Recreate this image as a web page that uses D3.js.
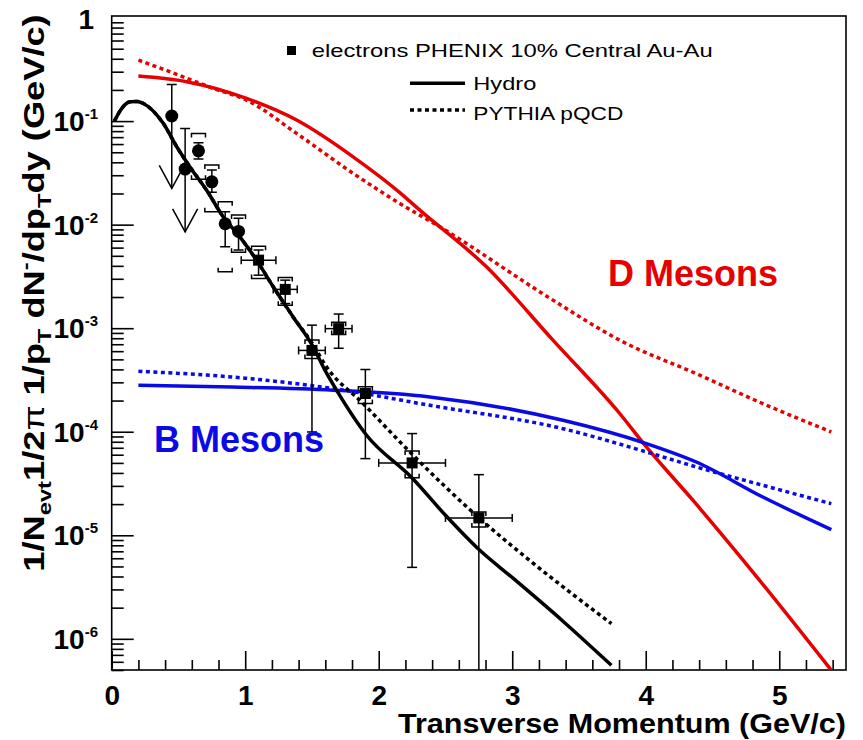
<!DOCTYPE html>
<html>
<head>
<meta charset="utf-8">
<script src="https://cdnjs.cloudflare.com/ajax/libs/d3/7.8.5/d3.min.js"></script>
<style>
  body { margin: 0; background: #fff; }
  svg { display: block; font-family: "Liberation Sans", Arial, Helvetica, sans-serif; }
</style>
</head>
<body>
<svg id="chart" width="863" height="740"></svg>
<script>
// ---- data ----
// electron points (PHENIX 10% central Au-Au)
var ptX      = [0.45, 0.55, 0.65, 0.75, 0.85, 0.95, 1.1, 1.3, 1.5, 1.7, 1.9, 2.25, 2.75];
var ptY      = [0.112, 0.0344, 0.0516, 0.0259, 0.0102, 0.0086, 0.00454, 0.00237, 6.1e-4, 9.9e-4, 2.34e-4, 5.0e-5, 1.47e-5];
var statHi   = [0.226, 0.085, 0.0617, 0.0337, 0.0133, 0.0115, 0.00568, 0.00291, 1.07e-3, 1.37e-3, 3.99e-4, 9.6e-5, 3.85e-5];
var statLo   = [0.0224, 0.0085, 0.043, 0.0206, 0.0061, 0.0057, 0.00325, 0.00173, 9.95e-5, 6.4e-4, 5.5e-5, 4.9e-6, 1e-7];
var sysHi    = [null, null, 0.076, 0.0376, 0.0166, 0.0124, 0.0062, 0.00309, 7.7e-4, 1.14e-3, 2.72e-4, 6.5e-5, 1.68e-5];
var sysLo    = [null, null, 0.0274, 0.0133, 0.0035, 0.0054, 0.00302, 0.00167, 5.1e-4, 8.7e-4, 1.87e-4, 3.6e-5, 1.2e-5];
var ptXerr   = [0, 0, 0, 0, 0, 0, 0.13, 0.09, 0.1, 0.1, 0, 0.25, 0.25];
var ptArrow  = [true, true, false, false, false, false, false, false, false, false, false, false, false];
var ptMarker = ["circle", "circle", "circle", "circle", "circle", "circle", "square", "square", "square", "square", "square", "square", "square"];

// model curves [pT, yield]
var eHydro = [[0.02,0.1],[0.08,0.135],[0.137,0.1535],[0.19,0.155],[0.237,0.148],[0.386,0.0951],[0.487,0.0565],
  [0.586,0.0361],[0.711,0.0215],[0.835,0.0119],[0.96,0.00762],[1.085,0.00454],[1.21,0.00251],[1.359,0.001285],
  [1.509,6.61e-4],[1.597,3.93e-4],[1.684,2.52e-4],[1.909,9.25e-5],[2.245,3.63e-5],[2.5,1.56e-5],[2.757,7.16e-6],
  [3.006,3.85e-6],[3.38,1.48e-6],[3.743,5.55e-7]];
var ePythia = [[0.02,0.1],[0.08,0.135],[0.137,0.1535],[0.19,0.155],[0.237,0.148],[0.386,0.0951],[0.487,0.0565],
  [0.586,0.0361],[0.711,0.0215],[0.835,0.0119],[0.96,0.00762],[1.085,0.00454],[1.21,0.00251],[1.359,0.001285],
  [1.509,6.92e-4],[1.6,4.4e-4],[1.883,1.875e-4],[2.233,6.38e-5],[2.757,1.45e-5],[3.13,5.73e-6],[3.743,1.4e-6]];
var dHydro = [[0.2,0.272],[0.561,0.24],[1.01,0.1656],[1.385,0.1023],[1.808,0.0452],[2.158,0.0204],[2.308,0.0138],
  [2.807,0.00391],[3.305,7.66e-4],[3.805,1.5e-4],[4.005,7.13e-5],[4.353,2.18e-5],[4.85,3.71e-6],[5.39,4.97e-7]];
var dPythia = [[0.2,0.388],[0.45,0.295],[0.76,0.207],[1.01,0.1596],[1.385,0.076],[1.808,0.0313],[2.158,0.016],
  [2.458,0.00952],[3.305,0.001866],[3.805,7.66e-4],[4.404,3.52e-4],[4.877,1.87e-4],[5.39,9.95e-5]];
var bHydro = [[0.2,2.81e-4],[0.9,2.7e-4],[1.659,2.52e-4],[2.383,2.17e-4],[3.38,1.29e-4],[4.005,7.69e-5],
  [4.379,5.1e-5],[4.877,2.34e-5],[5.39,1.135e-5]];
var bPythia = [[0.2,3.84e-4],[1.0,3.29e-4],[1.66,2.61e-4],[2.383,1.8e-4],[3.38,1.07e-4],[4.005,6.38e-5],
  [4.379,4.57e-5],[4.877,3.04e-5],[5.39,2.02e-5]];

var xMajor = [0, 1, 2, 3, 4, 5];
var xMinor = [0.2,0.4,0.6,0.8,1.2,1.4,1.6,1.8,2.2,2.4,2.6,2.8,3.2,3.4,3.6,3.8,4.2,4.4,4.6,4.8,5.2,5.4];
var yMajor = [1e-6, 1e-5, 1e-4, 1e-3, 1e-2, 1e-1];
var yMajorExp = ["-6", "-5", "-4", "-3", "-2", "-1"];

var red = "#e60000", blue = "#0a0ae6";

// ---- layout ----
var svg = d3.select("#chart");
var fL = 111.7, fR = 846, fT = 16, fB = 670;

var x = d3.scaleLinear().domain([0, 5.5]).range([fL, fR]);
var y = d3.scaleLog().domain([5e-7, 1.035]).range([fB, fT]);

svg.append("clipPath").attr("id", "frame-clip")
  .append("rect").attr("x", fL).attr("y", fT).attr("width", fR - fL).attr("height", fB - fT);

// axes (ticks inward, ROOT style)
var xAxisMajor = d3.axisBottom(x).tickValues(xMajor).tickSize(-19).tickPadding(15).tickFormat(d3.format("d"));
var xAxisMinor = d3.axisBottom(x).tickValues(xMinor).tickSize(-10).tickFormat("");
var gx = svg.append("g").attr("transform", "translate(0," + fB + ")");
gx.call(xAxisMajor);
gx.append("g").call(xAxisMinor);
gx.selectAll("text").attr("font-size", 28).attr("font-weight", "bold").attr("fill", "#000")
  .attr("font-family", "'Liberation Sans', Arial, sans-serif");

var yMinor = y.ticks().filter(function(d){ return yMajor.indexOf(d) < 0 && Math.abs(d - 1) > 1e-9; });
var yAxisMajor = d3.axisLeft(y).tickValues(yMajor).tickSize(-22).tickFormat("");
var yAxisMinor = d3.axisLeft(y).tickValues(yMinor).tickSize(-12).tickFormat("");
var gy = svg.append("g").attr("transform", "translate(" + fL + ",0)");
gy.call(yAxisMajor);
gy.append("g").call(yAxisMinor);

svg.selectAll(".domain").remove();
svg.selectAll(".tick line").attr("stroke", "#000").attr("stroke-width", 1.6);

// y tick labels 10^n
var ylab = svg.append("g").attr("font-weight", "bold").attr("fill", "#000");
yMajor.forEach(function(v, i){
  var t = ylab.append("text").attr("x", 98).attr("y", y(v) + 10).attr("text-anchor", "end");
  t.append("tspan").attr("font-size", 28).text("10");
  t.append("tspan").attr("font-size", 15).attr("dy", -12).text(yMajorExp[i]);
});
ylab.append("text").attr("x", 94).attr("y", y(1) + 11).attr("text-anchor", "end")
  .attr("font-size", 28).text("1");

// frame
svg.append("rect").attr("x", fL).attr("y", fT).attr("width", fR - fL).attr("height", fB - fT)
  .attr("fill", "none").attr("stroke", "#000").attr("stroke-width", 1.6);

// curves
var line = d3.line().x(function(d){ return x(d[0]); }).y(function(d){ return y(d[1]); }).curve(d3.curveMonotoneX);
var plot = svg.append("g").attr("clip-path", "url(#frame-clip)");

function drawCurve(data, color, dotted){
  plot.append("path").datum(data).attr("d", line)
    .attr("fill", "none").attr("stroke", color).attr("stroke-width", 3.5)
    .attr("stroke-dasharray", dotted ? "4,3.5" : null);
}
drawCurve(dPythia, red, true);
drawCurve(dHydro, red, false);
drawCurve(bPythia, blue, true);
drawCurve(bHydro, blue, false);
drawCurve(ePythia, "#000", true);
drawCurve(eHydro, "#000", false);

// data points
var pts = plot.append("g").attr("stroke", "#000").attr("stroke-width", 1.5).attr("fill", "none");
ptX.forEach(function(px, i){
  var cx = x(px), cy = y(ptY[i]);
  var yh = y(statHi[i]), yl = y(statLo[i]);
  pts.append("line").attr("x1", cx).attr("x2", cx).attr("y1", yh).attr("y2", yl);
  pts.append("line").attr("x1", cx - 5).attr("x2", cx + 5).attr("y1", yh).attr("y2", yh);
  if (ptArrow[i]) {
    pts.append("path").attr("d", "M" + (cx - 12.5) + "," + (yl - 23) + "L" + cx + "," + yl + "L" + (cx + 12.5) + "," + (yl - 23));
  } else {
    pts.append("line").attr("x1", cx - 5).attr("x2", cx + 5).attr("y1", yl).attr("y2", yl);
  }
  if (ptXerr[i] > 0) {
    var xl = x(px - ptXerr[i]), xr = x(px + ptXerr[i]);
    pts.append("line").attr("x1", xl).attr("x2", xr).attr("y1", cy).attr("y2", cy);
    pts.append("line").attr("x1", xl).attr("x2", xl).attr("y1", cy - 4).attr("y2", cy + 4);
    pts.append("line").attr("x1", xr).attr("x2", xr).attr("y1", cy - 4).attr("y2", cy + 4);
  }
  if (sysHi[i] !== null) {
    var sh = y(sysHi[i]), sl = y(sysLo[i]);
    pts.append("path").attr("d", "M" + (cx - 7) + "," + (sh + 4) + "V" + sh + "H" + (cx + 7) + "V" + (sh + 4));
    pts.append("path").attr("d", "M" + (cx - 7) + "," + (sl - 4) + "V" + sl + "H" + (cx + 7) + "V" + (sl - 4));
  }
  if (ptMarker[i] === "circle") {
    pts.append("circle").attr("cx", cx).attr("cy", cy).attr("r", 6.5).attr("fill", "#000").attr("stroke", "none");
  } else {
    pts.append("rect").attr("x", cx - 5.5).attr("y", cy - 5.5).attr("width", 11).attr("height", 11)
      .attr("fill", "#000").attr("stroke", "none");
  }
});

// legend
var leg = svg.append("g").attr("font-size", 19).attr("fill", "#000");
leg.append("rect").attr("x", 287).attr("y", 46).attr("width", 9).attr("height", 9).attr("fill", "#000");
leg.append("text").attr("x", 311.7).attr("y", 56.7).attr("textLength", 401).attr("lengthAdjust", "spacingAndGlyphs")
  .text("electrons PHENIX 10% Central Au-Au");
leg.append("line").attr("x1", 410).attr("x2", 465).attr("y1", 83.3).attr("y2", 83.3)
  .attr("stroke", "#000").attr("stroke-width", 3.5);
leg.append("text").attr("x", 473.3).attr("y", 90).attr("textLength", 63).attr("lengthAdjust", "spacingAndGlyphs")
  .text("Hydro");
leg.append("line").attr("x1", 410).attr("x2", 465).attr("y1", 110).attr("y2", 110)
  .attr("stroke", "#000").attr("stroke-width", 3.5).attr("stroke-dasharray", "4,3.5");
leg.append("text").attr("x", 473.3).attr("y", 120).attr("textLength", 150).attr("lengthAdjust", "spacingAndGlyphs")
  .text("PYTHIA pQCD");

// meson labels
svg.append("text").attr("x", 608).attr("y", 285.7).attr("font-size", 36).attr("font-weight", "bold")
  .attr("fill", red).text("D Mesons");
svg.append("text").attr("x", 154).attr("y", 451.7).attr("font-size", 36).attr("font-weight", "bold")
  .attr("fill", blue).text("B Mesons");

// axis titles
svg.append("text").attr("x", 846).attr("y", 733).attr("text-anchor", "end")
  .attr("font-size", 28).attr("font-weight", "bold").attr("textLength", 448).attr("lengthAdjust", "spacingAndGlyphs")
  .text("Transverse Momentum (GeV/c)");

var yt = svg.append("text").attr("transform", "translate(44,293) rotate(-90) scale(1.25,1)").attr("text-anchor", "middle")
  .attr("font-size", 29).attr("font-weight", "bold").attr("fill", "#000");
yt.append("tspan").text("1/N");
yt.append("tspan").attr("font-size", 19).attr("dy", 7).text("evt");
yt.append("tspan").attr("dy", -7).text("1/2");
yt.append("tspan").attr("font-weight", "normal").text("\u03c0");
yt.append("tspan").text(" 1/p");
yt.append("tspan").attr("font-size", 19).attr("dy", 7).text("T");
yt.append("tspan").attr("dy", -7).text(" dN");
yt.append("tspan").attr("font-size", 19).attr("dy", -12).text("-");
yt.append("tspan").attr("dy", 12).text("/dp");
yt.append("tspan").attr("font-size", 19).attr("dy", 7).text("T");
yt.append("tspan").attr("dy", -7).text("dy (GeV/c)");
</script>
</body>
</html>
